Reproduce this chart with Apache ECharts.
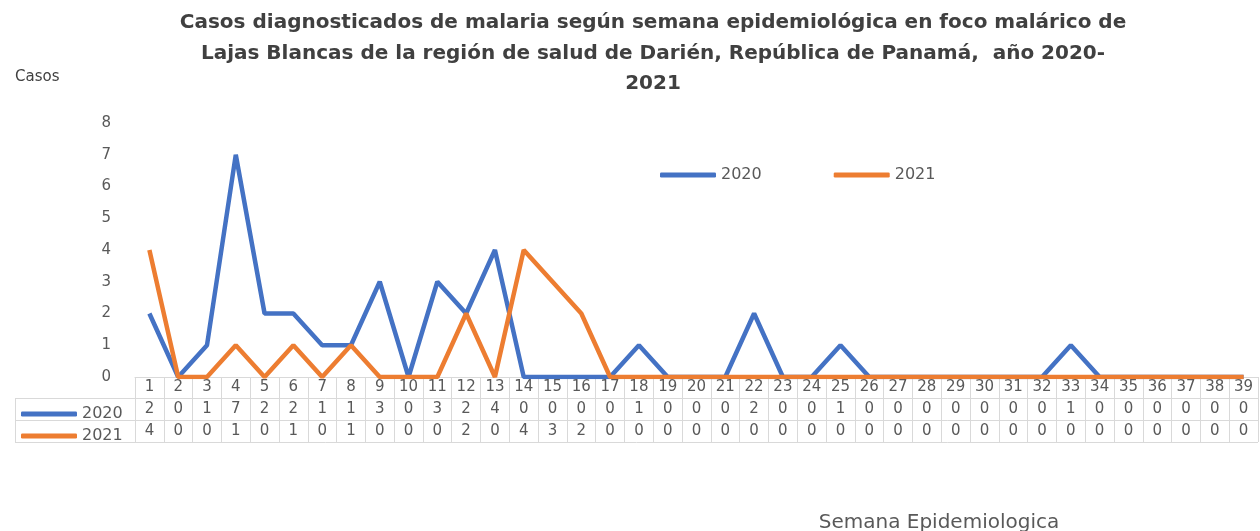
<!DOCTYPE html>
<html>
<head>
<meta charset="utf-8">
<script src="https://cdn.jsdelivr.net/npm/echarts@6/dist/echarts.min.js"></script>
<style>
  html, body { margin: 0; padding: 0; background: #fff; }
  #main { width: 1260px; height: 531px; }
</style>
</head>
<body>
<div id="main"></div>
<script>
// semanas epidemiologicas 1..39
var weeks = [];
for (var w = 1; w <= 39; w++) weeks.push(String(w));

var cases2020 = [2, 0, 1, 7, 2, 2, 1, 1, 3, 0, 3, 2, 4, 0, 0, 0, 0, 1, 0, 0, 0, 2, 0, 0, 1, 0, 0, 0, 0, 0, 0, 0, 1, 0, 0, 0, 0, 0, 0];
var cases2021 = [4, 0, 0, 1, 0, 1, 0, 1, 0, 0, 0, 2, 0, 4, 3, 2, 0, 0, 0, 0, 0, 0, 0, 0, 0, 0, 0, 0, 0, 0, 0, 0, 0, 0, 0, 0, 0, 0, 0];
var yTicks = [0, 8, 1]; // min, max, interval

var BLUE = '#4472C4', ORANGE = '#ED7D31', TXT = '#595959', GRID = '#d9d9d9';
var FONT = '"DejaVu Sans", sans-serif';

var myChart = echarts.init(document.getElementById('main'));

// eje "fila de tabla": etiquetas = valores de la serie
function rowAxis(offset, values) {
  return {
    type: 'category', position: 'bottom', offset: offset, data: weeks,
    axisLine: { show: false }, axisTick: { show: false },
    axisLabel: {
      interval: 0, margin: 3, color: TXT, fontSize: 15, fontFamily: FONT,
      formatter: function (v, i) { return String(values[i]); }
    }
  };
}

function hline(y) {
  return { type: 'line', shape: { x1: 15, y1: y, x2: 1258, y2: y }, style: { stroke: GRID, lineWidth: 1 } };
}

myChart.setOption({
  animation: false,
  title: [{
    text: 'Casos diagnosticados de malaria según semana epidemiológica en foco malárico de\nLajas Blancas de la región de salud de Darién, República de Panamá,  año 2020-\n2021',
    left: 648, top: 3, textAlign: 'center',
    textStyle: { fontFamily: FONT, fontWeight: 'bold', fontSize: 20, lineHeight: 30.5, color: '#404040' }
  }, {
    text: 'Casos', left: 10, top: 65,
    textStyle: { fontFamily: FONT, fontWeight: 'normal', fontSize: 15, color: '#404040' }
  }, {
    text: 'Semana Epidemiologica', left: 934, top: 508, textAlign: 'center',
    textStyle: { fontFamily: FONT, fontWeight: 'normal', fontSize: 20, color: TXT }
  }],
  legend: [{
    data: ['2020', '2021'],
    left: 655, top: 162, itemGap: 72,
    icon: 'roundRect', itemWidth: 56, itemHeight: 5,
    textStyle: { fontFamily: FONT, fontSize: 16, color: TXT }
  }, {
    data: ['2020', '2021'],
    orient: 'vertical', left: 16, top: 400, itemGap: 4,
    icon: 'roundRect', itemWidth: 56, itemHeight: 5,
    selectedMode: false,
    textStyle: { fontFamily: FONT, fontSize: 16, color: TXT, height: 18, lineHeight: 18 }
  }],
  grid: { left: 135, right: 2, top: 123, bottom: 154, containLabel: false },
  xAxis: [{
    type: 'category', data: weeks, boundaryGap: true,
    axisLine: { lineStyle: { color: GRID } },
    axisTick: { show: true, length: 65, lineStyle: { color: GRID } },
    axisLabel: { interval: 0, margin: 3, color: TXT, fontSize: 15, fontFamily: FONT }
  },
    rowAxis(22, cases2020),
    rowAxis(44, cases2021)
  ],
  yAxis: {
    type: 'value', min: yTicks[0], max: yTicks[1], interval: yTicks[2],
    axisLine: { show: false }, axisTick: { show: false }, splitLine: { show: false },
    axisLabel: { margin: 24, color: TXT, fontSize: 15, fontFamily: FONT }
  },
  series: [{
    name: '2020', type: 'line', data: cases2020, xAxisIndex: 0,
    showSymbol: false, symbol: 'none',
    lineStyle: { color: BLUE, width: 4.5 }, itemStyle: { color: BLUE }
  }, {
    name: '2021', type: 'line', data: cases2021, xAxisIndex: 0,
    showSymbol: false, symbol: 'none',
    lineStyle: { color: ORANGE, width: 4.5 }, itemStyle: { color: ORANGE }
  }],
  graphic: [
    hline(398.5), hline(420.5), hline(442.5),
    { type: 'line', shape: { x1: 15.5, y1: 398, x2: 15.5, y2: 443 }, style: { stroke: GRID, lineWidth: 1 } }
  ]
});
</script>
</body>
</html>
